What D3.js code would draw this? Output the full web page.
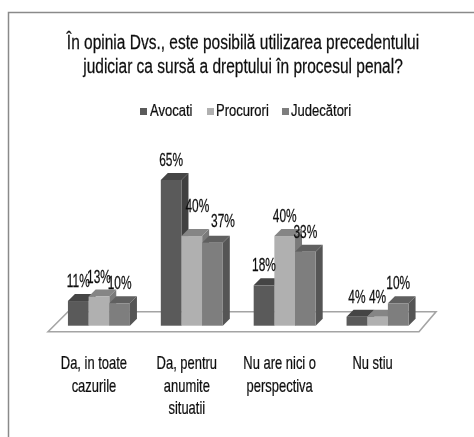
<!DOCTYPE html>
<html>
<head>
<meta charset="utf-8">
<script src="https://cdn.jsdelivr.net/npm/d3@7"></script>
<style>
html,body{margin:0;padding:0;background:#fff}
svg{display:block}
text{font-family:"Liberation Sans",Arial,sans-serif;fill:#111;stroke:#111;stroke-width:0.25px}
</style>
</head>
<body>
<script>
const titleLines = ["În opinia Dvs., este posibilă utilizarea precedentului", "judiciar ca sursă a dreptului în procesul penal?"];
const categories = [["Da, in toate","cazurile"],["Da, pentru","anumite","situatii"],["Nu are nici o","perspectiva"],["Nu stiu"]];
const seriesNames = ["Avocati","Procurori","Judecători"];
const avocati = [11,65,18,4];
const procurori = [13,40,40,4];
const judecatori = [10,37,33,10];
const seriesValues = [avocati,procurori,judecatori];
const frontColors = ["#5a5a5a","#b0b0b0","#7e7e7e"];
const topColors = ["#444444","#858585","#606060"];
const sideColors = ["#404040","#7a7a7a","#555555"];

const W=474,H=437;
const svg=d3.select("body").append("svg").attr("width",W).attr("height",H);
const defs=svg.append("defs");
defs.append("filter").attr("id","soft").attr("x","-5%").attr("y","-5%").attr("width","110%").attr("height","110%")
  .append("feGaussianBlur").attr("stdDeviation",0.45);
const root=svg.append("g").attr("filter","url(#soft)");
const squeeze=(x,y,k)=>`translate(${x},${y}) scale(${k},1)`;

// frame
root.append("path").attr("d",`M8.5,${H} V12.5 H${W}`).attr("fill","none").attr("stroke","#8a8a8a").attr("stroke-width",1.5);

// title
root.append("g").selectAll("text").data(titleLines).join("text")
  .attr("transform",(d,i)=>squeeze(243,49+i*24,0.795)).attr("text-anchor","middle").attr("font-size",19.5).text(d=>d);

// legend
const legendX=[140,207,282], legendTextX=[150,216,291];
const lg=root.append("g").selectAll("g").data(seriesNames).join("g");
lg.append("rect").attr("x",(d,i)=>legendX[i]).attr("y",108).attr("width",7).attr("height",7).attr("fill",(d,i)=>frontColors[i]);
lg.append("text").attr("transform",(d,i)=>squeeze(legendTextX[i],116,0.79)).attr("font-size",16.5).text(d=>d);

// scales
const x0=d3.scaleBand().domain(d3.range(categories.length)).range([52.5,424]).paddingInner(0).paddingOuter(0);
const groupW=x0.bandwidth();
const x1=d3.scaleBand().domain(d3.range(seriesNames.length)).range([groupW/2-31,groupW/2+31]);
const y=d3.scaleLinear().domain([0,65]).range([325.7,180]);
const depth=7;

// floor
const fl=x0.range()[0]-4.5, fr=x0.range()[1]-5;
const floorD=`M${fl},331.7 L${fl+20},311.7 H${fr+17} L${fr},331.7 Z`;
root.append("path").attr("d",floorD).attr("fill","#fff").attr("stroke","#a4a4a4").attr("stroke-width",1.6);

// bars
const bars=[];
seriesValues.forEach((vals,s)=>vals.forEach((v,c)=>bars.push({s,c,v})));
bars.sort((a,b)=>a.c-b.c||a.s-b.s);
const g=root.append("g");
const bar=g.selectAll("g").data(bars).join("g");
const bx=d=>x0(d.c)+x1(d.s), bw=x1.bandwidth();
bar.append("path").attr("fill",d=>sideColors[d.s]).attr("d",d=>{
  const r=bx(d)+bw,t=y(d.v),b=y(0);
  return `M${r},${t} l${depth},${-depth} V${b-depth} L${r},${b} Z`;});
bar.append("path").attr("fill",d=>topColors[d.s]).attr("d",d=>{
  const l=bx(d),t=y(d.v);
  return `M${l},${t} l${depth},${-depth} h${bw} l${-depth},${depth} Z`;});
bar.append("rect").attr("fill",d=>frontColors[d.s])
  .attr("x",bx).attr("y",d=>y(d.v)).attr("width",bw).attr("height",d=>y(0)-y(d.v));

// value labels (two labels in the tall group were moved aside in the source chart)
const nudge=d=>d.c===1&&d.s===1?[5.5,-10]:d.c===1&&d.s===2?[10.5,-2]:[0,0];
root.append("g").selectAll("text").data(bars).join("text")
  .attr("transform",d=>squeeze(bx(d)+bw/2+nudge(d)[0],y(d.v)-14+nudge(d)[1],0.68))
  .attr("text-anchor","middle").attr("font-size",17.5).text(d=>d.v+"%");

// category labels
const cat=root.append("g").selectAll("g").data(categories).join("g");
cat.selectAll("text").data((d,i)=>d.map(t=>({t,i}))).join("text")
  .attr("transform",(d,j)=>squeeze(x0(d.i)+groupW/2-5,369+j*22.5,0.72)).attr("text-anchor","middle")
  .attr("font-size",18).text(d=>d.t);
</script>
</body>
</html>
